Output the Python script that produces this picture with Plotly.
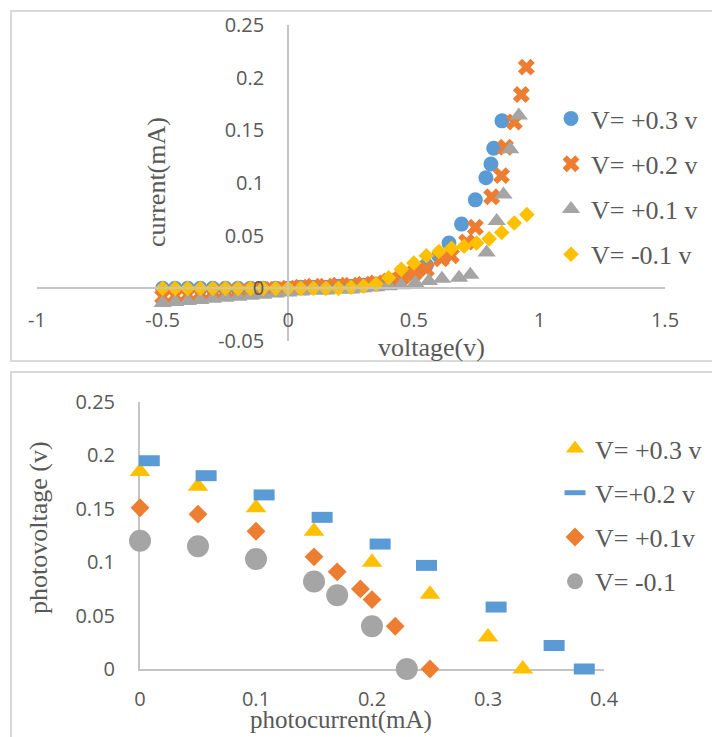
import plotly.graph_objects as go

W, H = 712, 737

# ---------- I-V characteristics (top chart) ----------
iv_names = ["V= +0.3 v", "V= +0.2 v", "V= +0.1 v", "V= -0.1 v"]

v03_x = [-0.5, -0.45, -0.4, -0.35, -0.3, -0.25, -0.2, -0.15, -0.1, -0.05, 0, 0.05, 0.1, 0.15,
         0.2, 0.25, 0.3, 0.35, 0.4, 0.45, 0.5, 0.55, 0.6, 0.64, 0.69, 0.745, 0.787, 0.807, 0.818, 0.851]
v03_y = [0, 0, 0, 0, 0, 0, 0, 0, 0, 0, 0, 0.001, 0.001, 0.001,
         0.002, 0.002, 0.003, 0.004, 0.007, 0.011, 0.016, 0.022, 0.031, 0.043, 0.061, 0.084, 0.105, 0.118, 0.133, 0.159]

v02_x = [-0.5, -0.45, -0.4, -0.35, -0.3, -0.25, -0.2, -0.15, -0.1, -0.05, 0, 0.05, 0.1, 0.15,
         0.2, 0.25, 0.3, 0.35, 0.4, 0.45, 0.5, 0.55, 0.61, 0.65, 0.71, 0.745, 0.81, 0.849, 0.865, 0.9, 0.928, 0.948]
v02_y = [-0.008, -0.007, -0.006, -0.005, -0.004, -0.003, -0.003, -0.002, -0.001, -0.001, 0, 0.001, 0.002, 0.002,
         0.003, 0.003, 0.004, 0.005, 0.007, 0.01, 0.014, 0.018, 0.028, 0.031, 0.044, 0.058, 0.087, 0.107, 0.134, 0.158, 0.184, 0.21]

v01_x = [-0.5, -0.45, -0.4, -0.35, -0.3, -0.25, -0.2, -0.15, -0.1, -0.05, 0, 0.05, 0.1, 0.15,
         0.2, 0.25, 0.3, 0.35, 0.4, 0.45, 0.506, 0.56, 0.612, 0.68, 0.725, 0.79, 0.83, 0.857, 0.884, 0.918]
v01_y = [-0.014, -0.013, -0.012, -0.011, -0.01, -0.009, -0.008, -0.007, -0.006, -0.005, -0.004, -0.003, -0.002, -0.002,
         -0.001, -0.001, 0, 0.001, 0.002, 0.003, 0.005, 0.007, 0.009, 0.01, 0.013, 0.034, 0.064, 0.089, 0.132, 0.164]

vm01_x = [-0.5, -0.45, -0.4, -0.35, -0.3, -0.25, -0.2, -0.15, -0.1, -0.05, 0, 0.05, 0.1, 0.15, 0.2,
          0.25, 0.3, 0.35, 0.4, 0.45, 0.5, 0.55, 0.6, 0.65, 0.7, 0.75, 0.8, 0.85, 0.9, 0.95]
vm01_y = [0, 0, 0, 0, 0, 0, 0, 0, 0, 0, 0, 0, 0, 0, 0,
          0.001, 0.002, 0.004, 0.01, 0.018, 0.024, 0.031, 0.035, 0.038, 0.04, 0.043, 0.047, 0.053, 0.062, 0.07]

iv_xticks = [-1, -0.5, 0, 0.5, 1, 1.5]
iv_xtext = ["-1", "-0.5", "0", "0.5", "1", "1.5"]
iv_yticks = [-0.05, 0, 0.05, 0.1, 0.15, 0.2, 0.25]
iv_ytext = ["-0.05", "0", "0.05", "0.1", "0.15", "0.2", "0.25"]

# ---------- photovoltage vs photocurrent (bottom chart) ----------
pv_names = ["V= +0.3 v", "V=+0.2 v", "V= +0.1v", "V= -0.1"]

p03_x = [0, 0.05, 0.1, 0.15, 0.2, 0.25, 0.3, 0.33]
p03_y = [0.185, 0.171, 0.151, 0.129, 0.1, 0.07, 0.03, 0]

p02_x = [0.008, 0.057, 0.107, 0.157, 0.207, 0.247, 0.307, 0.357, 0.383]
p02_y = [0.195, 0.181, 0.163, 0.142, 0.117, 0.097, 0.058, 0.022, 0]

p01_x = [0, 0.05, 0.1, 0.15, 0.17, 0.19, 0.2, 0.22, 0.25]
p01_y = [0.151, 0.145, 0.129, 0.105, 0.091, 0.075, 0.065, 0.04, 0]

pm01_x = [0, 0.05, 0.1, 0.15, 0.17, 0.2, 0.23]
pm01_y = [0.12, 0.115, 0.103, 0.082, 0.069, 0.04, 0]

pv_xticks = [0, 0.1, 0.2, 0.3, 0.4]
pv_xtext = ["0", "0.1", "0.2", "0.3", "0.4"]
pv_yticks = [0, 0.05, 0.1, 0.15, 0.2, 0.25]
pv_ytext = ["0", "0.05", "0.1", "0.15", "0.2", "0.25"]

# ---------- styling ----------
BLUE, ORANGE, GRAY, GOLD = "#5B9BD5", "#ED7D31", "#A5A5A5", "#FFC000"
TXT = "#595959"
AXC = "#C4C4C4"
TICKFONT = dict(family="Open Sans", size=20, color=TXT)
SERIF = "Liberation Serif"


def px_x(p):
    return p / W


def px_y(p):
    return 1 - p / H


fig = go.Figure()

iv_series = [
    (v03_x, v03_y, dict(symbol="circle", size=15, color=BLUE)),
    (v02_x, v02_y, dict(symbol="x", size=15, color=ORANGE)),
    (v01_x, v01_y, dict(symbol="triangle-up", size=16, color=GRAY)),
    (vm01_x, vm01_y, dict(symbol="diamond", size=12, color=GOLD)),
]
for i, (xs, ys, mk) in enumerate(iv_series):
    fig.add_trace(go.Scatter(x=xs, y=ys, mode="markers", name=iv_names[i], marker=mk,
                             xaxis="x", yaxis="y", legend="legend", legendgroup=f"a{i}",
                             cliponaxis=False))

pv_series = [
    (p03_x, p03_y, dict(symbol="triangle-up", size=18, color=GOLD)),
    (p02_x, p02_y, dict(symbol="line-ew", size=15, color=BLUE, line=dict(color=BLUE, width=11))),
    (p01_x, p01_y, dict(symbol="diamond", size=14.5, color=ORANGE)),
    (pm01_x, pm01_y, dict(symbol="circle", size=22, color=GRAY)),
]
for i, (xs, ys, mk) in enumerate(pv_series):
    fig.add_trace(go.Scatter(x=xs, y=ys, mode="markers", name=pv_names[i], marker=mk,
                             xaxis="x2", yaxis="y2", legend="legend2", legendgroup=f"b{i}",
                             cliponaxis=False))

# top plot area
tx0, tx1 = px_x(37), px_x(665)
ty0, ty1 = px_y(341), px_y(25)
iv_xr, iv_yr = [-1, 1.5], [-0.05, 0.25]
xaxis_pos = ty0 + (0 - iv_yr[0]) / (iv_yr[1] - iv_yr[0]) * (ty1 - ty0)
yaxis_pos = tx0 + (0 - iv_xr[0]) / (iv_xr[1] - iv_xr[0]) * (tx1 - tx0)

# bottom plot area
bx0, bx1 = px_x(140), px_x(604)
by0, by1 = px_y(669), px_y(402)

common = dict(showgrid=False, zeroline=False, showline=True, linecolor=AXC, linewidth=2,
              ticks="outside", tickcolor="rgba(0,0,0,0)", tickfont=TICKFONT, fixedrange=True)

fig.update_layout(
    width=W, height=H,
    margin=dict(l=0, r=0, t=0, b=0, autoexpand=False),
    paper_bgcolor="white", plot_bgcolor="rgba(0,0,0,0)",
    showlegend=True,
    xaxis=dict(domain=[tx0, tx1], range=iv_xr, anchor="free", position=xaxis_pos,
               tickmode="array", tickvals=iv_xticks, ticktext=iv_xtext, ticklen=14, **common),
    yaxis=dict(domain=[ty0, ty1], range=iv_yr, anchor="free", position=yaxis_pos,
               tickmode="array", tickvals=iv_yticks, ticktext=iv_ytext, ticklen=19, **common),
    xaxis2=dict(domain=[bx0, bx1], range=[0, 0.4], anchor="y2", layer="below traces",
                tickmode="array", tickvals=pv_xticks, ticktext=pv_xtext, ticklen=11, **common),
    yaxis2=dict(domain=[by0, by1], range=[0, 0.25], anchor="x2", layer="below traces",
                tickmode="array", tickvals=pv_yticks, ticktext=pv_ytext, ticklen=19, **common),
    legend=dict(x=px_x(551), y=px_y(95), xanchor="left", yanchor="top",
                font=dict(family=SERIF, size=26, color=TXT), bgcolor="rgba(0,0,0,0)",
                traceorder="grouped", tracegroupgap=8.5, itemsizing="trace"),
    legend2=dict(x=px_x(555), y=px_y(425), xanchor="left", yanchor="top",
                 font=dict(family=SERIF, size=26, color=TXT), bgcolor="rgba(0,0,0,0)",
                 traceorder="grouped", tracegroupgap=7.5, itemsizing="trace"),
)

# chart frames
frame = dict(type="rect", xref="paper", yref="paper", line=dict(color="#D9D9D9", width=2),
             fillcolor="rgba(0,0,0,0)", layer="below")
fig.add_shape(x0=px_x(11), x1=1.02, y0=px_y(361), y1=px_y(11), **frame)
fig.add_shape(x0=px_x(11), x1=1.02, y0=-0.02, y1=px_y(372), **frame)

# axis titles
title_font = dict(family=SERIF, size=26, color=TXT)
titles = [
    ("current(mA)", 156, 182, -90, 26),
    ("voltage(v)", 431, 347, 0, 26),
    ("photovoltage (v)", 38, 528, -90, 26),
    ("photocurrent(mA)", 341, 720, 0, 25),
]
for text, tx, ty, ang, fs in titles:
    fig.add_annotation(text=text, x=px_x(tx), y=px_y(ty), xref="paper", yref="paper",
                       xanchor="center", yanchor="middle", textangle=ang,
                       showarrow=False, font=dict(title_font, size=fs))

fig.write_html("out.html")
